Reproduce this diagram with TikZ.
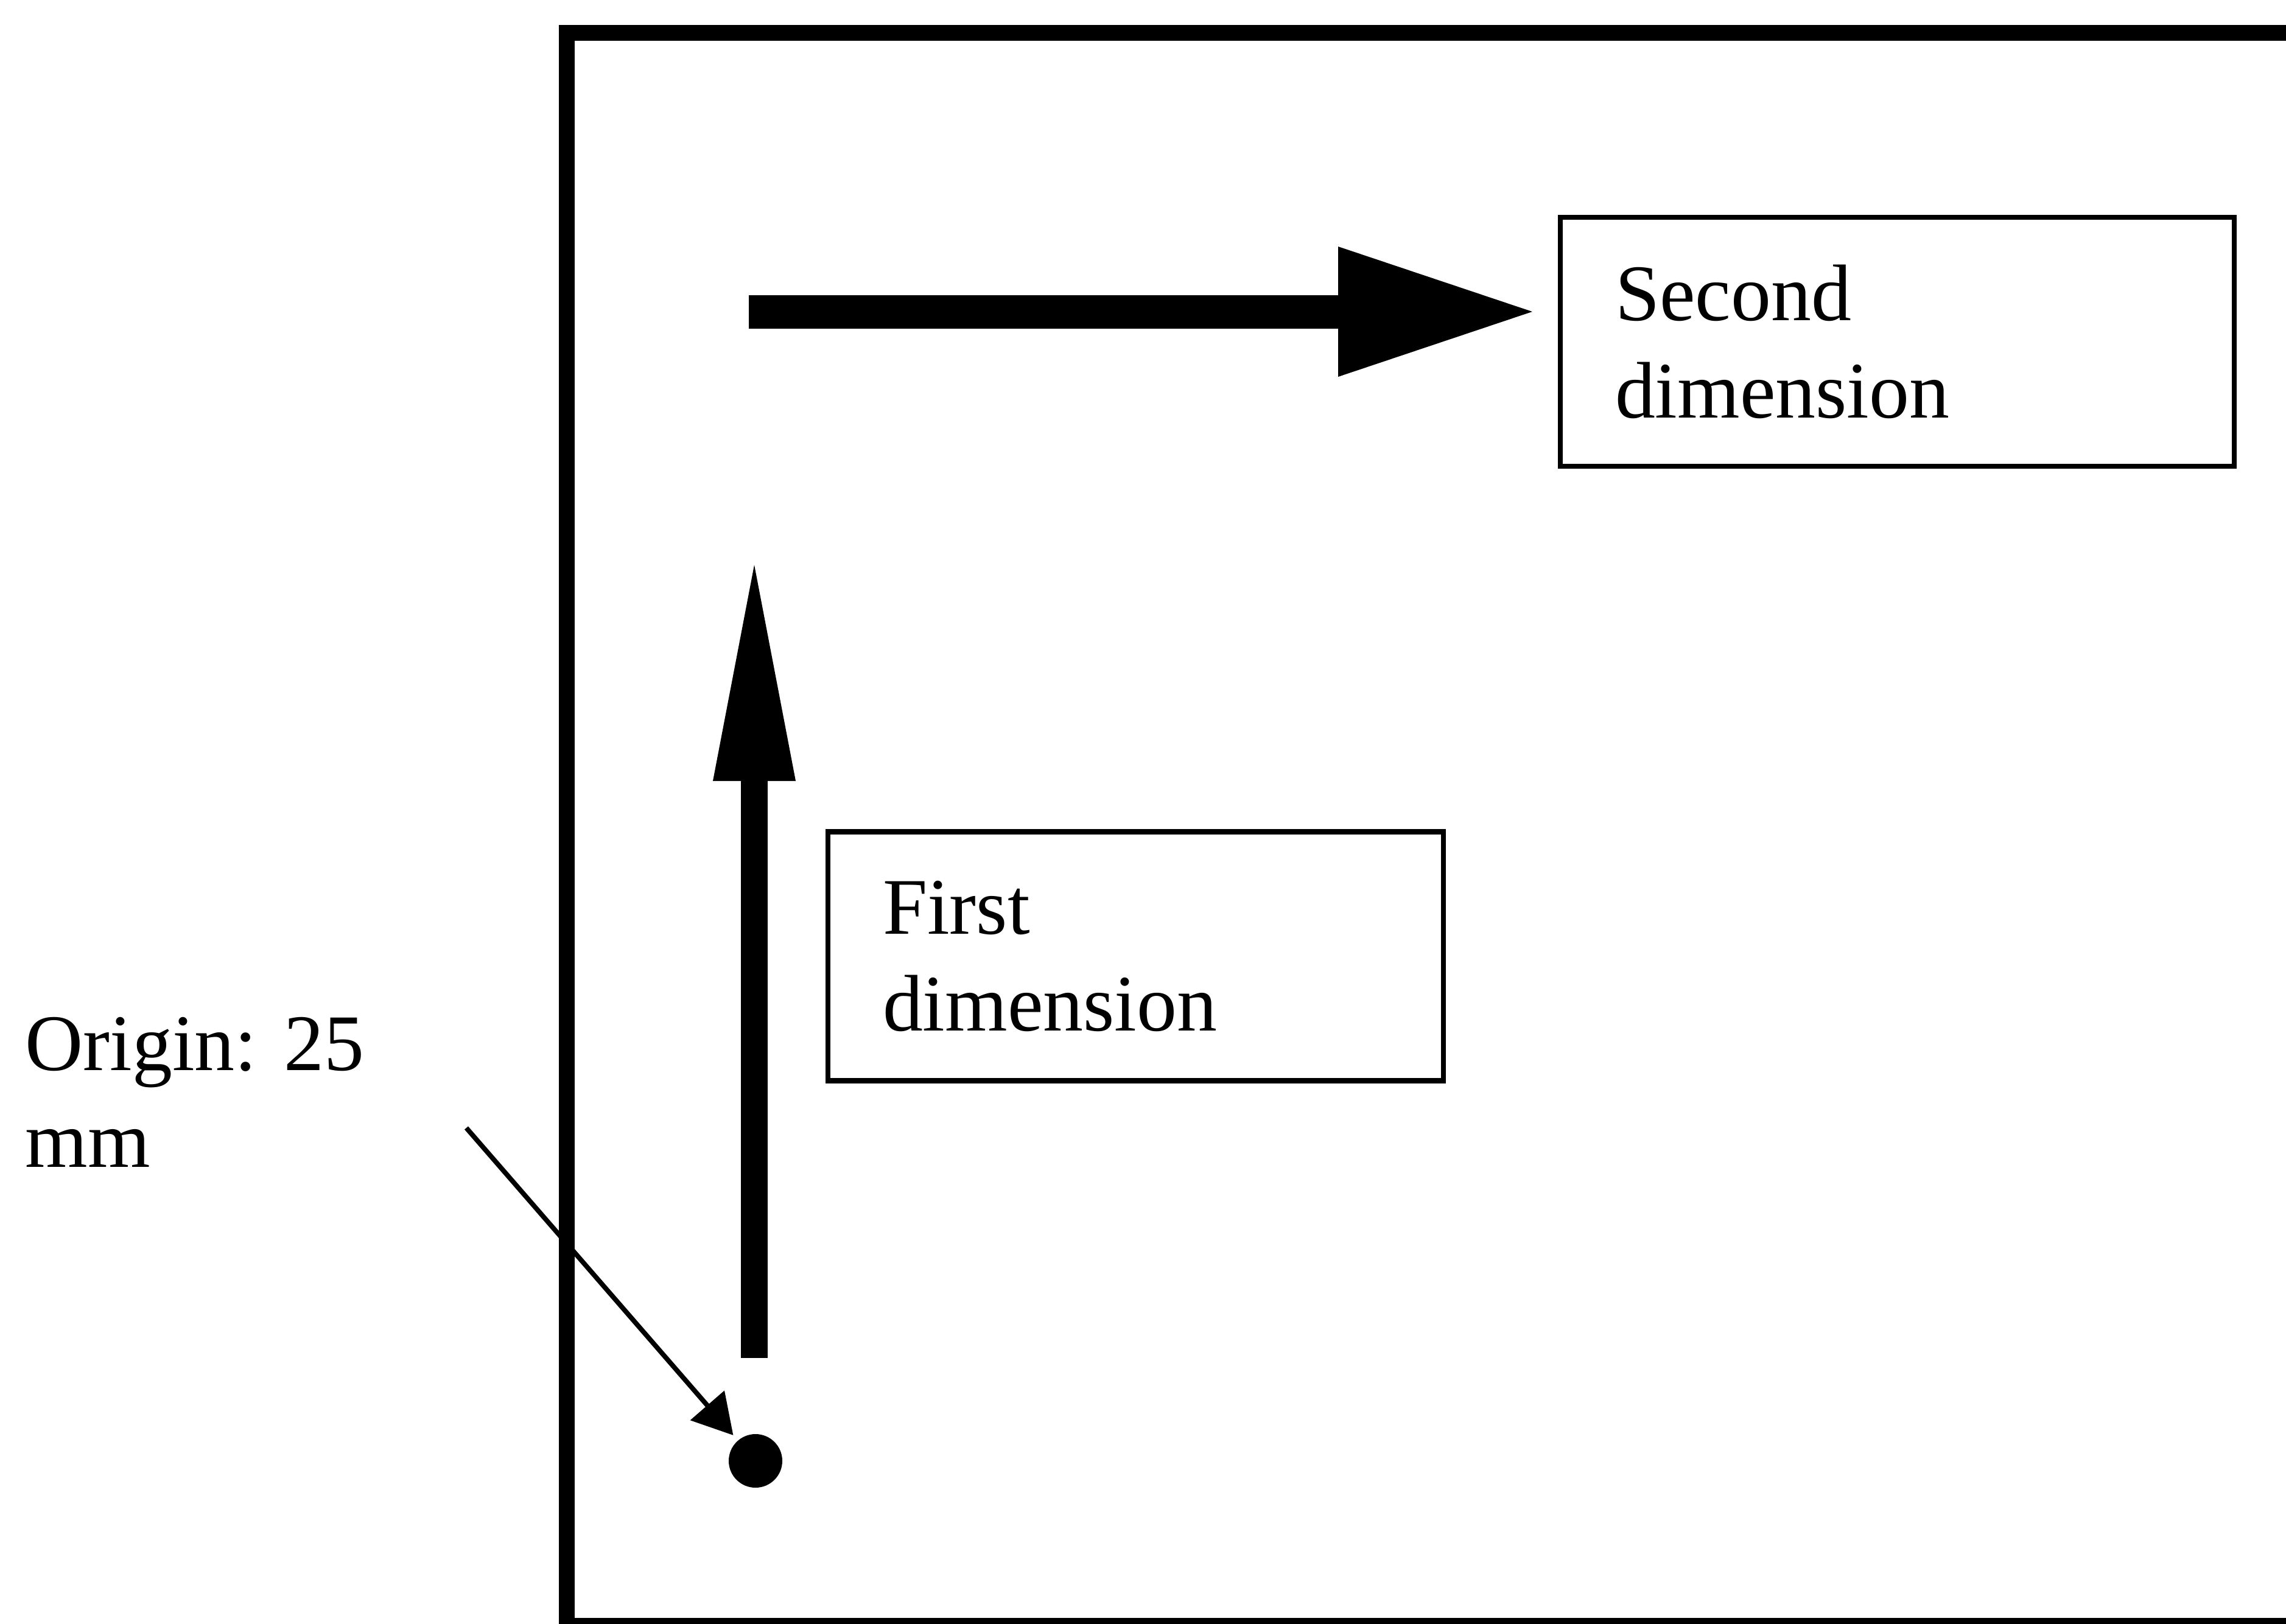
\documentclass[tikz,border=0pt]{standalone}
\usepackage{fontspec}
\setmainfont{Liberation Serif}
\usepackage{tikz}
\usetikzlibrary{arrows.meta,positioning}
\tikzset{
  dimbox/.style={draw,line width=1pt,minimum height=1.636cm,inner xsep=0.36cm,inner ysep=0pt,align=left},
  fatarrow/.style={line width=#1,line cap=butt},
}

\begin{document}
\begin{tikzpicture}[x=0.4cm,y=0.4cm,font=\fontsize{15}{18.2}\selectfont]
  \useasboundingbox (0,0) rectangle (37.55,26.67);
  \clip (0,0) rectangle (37.55,26.67);
  % sheet, cut off at the right and at the bottom
  \draw[line width=2.85pt] (9.31,-0.03) rectangle (40,26.13);
  % second dimension
  \coordinate (sStart) at (12.30,21.55);
  \coordinate (sTip) at (25.17,21.55);
  \draw[fatarrow=6.26pt,-{Triangle[length=1.276cm,width=0.856cm,line width=0pt]}] (sStart) -- (sTip);
  \node[dimbox,text width=3.708cm] (second) at (31.165,21.055) {Second\\dimension};
  % first dimension
  \coordinate (fStart) at (12.39,4.36);
  \coordinate (fTip) at (12.39,17.39);
  \draw[fatarrow=5.1pt,-{Triangle[length=1.42cm,width=0.544cm,line width=0pt]}] (fStart) -- (fTip);
  \node[dimbox,text width=3.324cm] (first) at (18.655,10.96) {First\\dimension};
  % origin
  \node[circle,fill,inner sep=0pt,minimum size=0.352cm] (origin) at (12.41,2.67) {};
  \node[anchor=north west,inner sep=0pt,align=left] (originlabel) at (0.40,9.98) {Origin: 25\\mm};
  \coordinate (lead) at (7.66,8.14);
  \draw[line width=0.9pt,shorten >=0.04cm,-{Triangle[length=0.26cm,width=0.29cm]}] (lead) -- (origin);
\end{tikzpicture}
\end{document}
